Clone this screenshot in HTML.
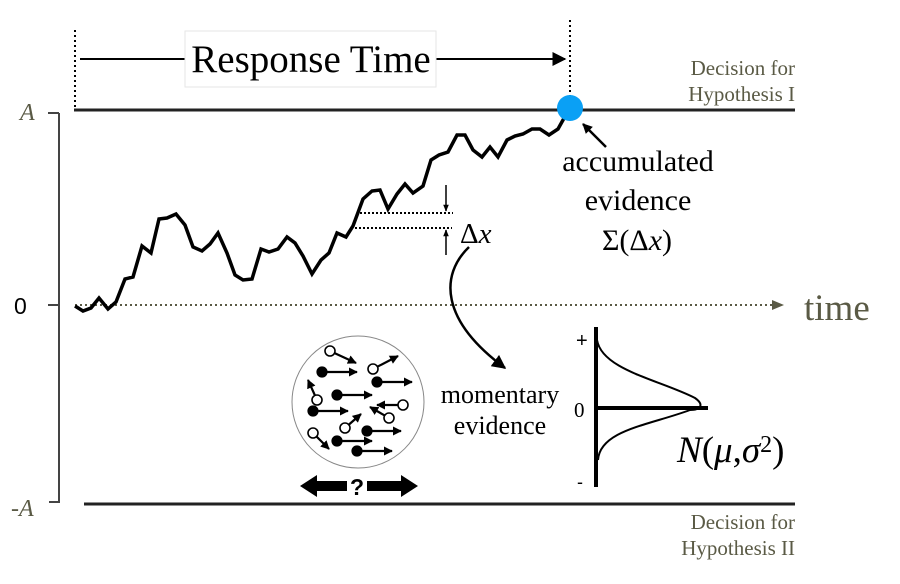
<!DOCTYPE html>
<html><head><meta charset="utf-8"><style>
html,body{margin:0;padding:0;background:#fff;width:900px;height:584px;overflow:hidden}
svg{display:block}
.serif{font-family:"Liberation Serif",serif}
</style></head><body>
<svg width="900" height="584" viewBox="0 0 900 584" xmlns="http://www.w3.org/2000/svg">
<defs>
<marker id="ah" viewBox="0 0 10 10" refX="9" refY="5" markerWidth="10" markerHeight="10" orient="auto" markerUnits="userSpaceOnUse"><path d="M0,0 L10,5 L0,10 z" fill="#000"/></marker>
<marker id="ah2" viewBox="0 0 10 10" refX="9" refY="5" markerWidth="14" markerHeight="14" orient="auto" markerUnits="userSpaceOnUse"><path d="M0,0 L10,5 L0,10 z" fill="#000"/></marker>
<marker id="ahs" viewBox="0 0 10 10" refX="9" refY="5" markerWidth="7" markerHeight="7" orient="auto" markerUnits="userSpaceOnUse"><path d="M0,1 L10,5 L0,9 z" fill="#000"/></marker>
<marker id="ahd" viewBox="0 0 10 10" refX="9" refY="5" markerWidth="9" markerHeight="9" orient="auto" markerUnits="userSpaceOnUse"><path d="M0,0 L10,5 L0,10 z" fill="#000"/></marker>
</defs>
<!-- axis -->
<line x1="59" y1="113" x2="59" y2="503" stroke="#444" stroke-width="2"/>
<line x1="48" y1="113" x2="59" y2="113" stroke="#444" stroke-width="2"/>
<line x1="48" y1="305" x2="59" y2="305" stroke="#444" stroke-width="2"/>
<line x1="49" y1="502" x2="60" y2="502" stroke="#444" stroke-width="2"/>
<text x="20" y="120" class="serif" font-style="italic" font-size="24" fill="#5a5a45">A</text>
<text x="14" y="314" font-family="Liberation Sans,sans-serif" font-size="23" fill="#000">0</text>
<text x="11" y="516" class="serif" font-style="italic" font-size="24" fill="#5a5a45">-A</text>
<!-- bounds -->
<line x1="74" y1="110" x2="795" y2="110" stroke="#222" stroke-width="3"/>
<line x1="84" y1="504" x2="795" y2="504" stroke="#222" stroke-width="3"/>
<line x1="75" y1="30" x2="75" y2="108" stroke="#000" stroke-width="2" stroke-dasharray="2,3"/>
<line x1="570" y1="20" x2="570" y2="100" stroke="#000" stroke-width="2" stroke-dasharray="2,3"/>
<!-- response time -->
<line x1="80" y1="59" x2="186" y2="59" stroke="#000" stroke-width="2"/>
<line x1="435" y1="59" x2="565" y2="59" stroke="#000" stroke-width="2" marker-end="url(#ah2)"/>
<rect x="185" y="31" width="251" height="56" fill="#fff" stroke="#e6e6e6" stroke-width="1"/>
<text x="311" y="72" class="serif" font-size="39" text-anchor="middle" fill="#000">Response Time</text>
<text x="795" y="75" class="serif" font-size="21" text-anchor="end" fill="#5a5a45">Decision for</text>
<text x="795" y="101" class="serif" font-size="21" text-anchor="end" fill="#5a5a45">Hypothesis I</text>
<text x="795" y="529" class="serif" font-size="21" text-anchor="end" fill="#5a5a45">Decision for</text>
<text x="795" y="555" class="serif" font-size="21" text-anchor="end" fill="#5a5a45">Hypothesis II</text>
<!-- zero line -->
<line x1="75" y1="305" x2="778" y2="305" stroke="#5a5a45" stroke-width="2" stroke-dasharray="2,3"/>
<path d="M772,300 L784,305 L772,310 z" fill="#5a5a45"/>
<text x="804" y="320" class="serif" font-size="37" fill="#5a5a45">time</text>
<!-- walk -->
<polyline fill="none" stroke="#000" stroke-width="3.5" stroke-linejoin="miter" points="75,306 83,311 91,308 99,298 108,309 116,302 125,279 133,277 142,246 151,253 159,219 167,218 176,214 185,225 193,247 202,251 210,244 218,233 227,253 235,275 243,280 252,279 261,249 269,252 278,249 287,237 295,243 303,256 312,274 321,260 329,253 337,233 346,237 353,226 363,199 372,191 380,190 388,209 397,194 405,184 413,193 423,186 431,160 439,155 448,152 457,135 465,135 473,150 482,157 490,147 498,157 507,140 515,136 523,134 532,129 540,129 549,135 558,129 563,120 568,110"/>
<circle cx="570" cy="108" r="13" fill="#0aa0f5"/>
<line x1="606" y1="147" x2="583" y2="124" stroke="#000" stroke-width="2.5" marker-end="url(#ah)"/>
<text x="638" y="171" class="serif" font-size="30" text-anchor="middle">accumulated</text>
<text x="638" y="210" class="serif" font-size="30" text-anchor="middle">evidence</text>
<text x="637" y="250" class="serif" font-size="30" text-anchor="middle">Σ(Δ<tspan font-style="italic">x</tspan>)</text>
<!-- delta x -->
<line x1="360" y1="213" x2="453" y2="213" stroke="#000" stroke-width="2" stroke-dasharray="2,2"/>
<line x1="355" y1="228" x2="452" y2="228" stroke="#000" stroke-width="2" stroke-dasharray="2,2"/>
<line x1="446" y1="185" x2="446" y2="211" stroke="#000" stroke-width="1.5" marker-end="url(#ahs)"/>
<line x1="446" y1="255" x2="446" y2="230" stroke="#000" stroke-width="1.5" marker-end="url(#ahs)"/>
<text x="460" y="243" class="serif" font-size="29">Δ<tspan font-style="italic">x</tspan></text>
<path d="M469,247 C440,275 440,320 505,368" fill="none" stroke="#000" stroke-width="2.5" marker-end="url(#ah2)"/>
<text x="500" y="403" class="serif" font-size="26" text-anchor="middle">momentary</text>
<text x="500" y="434" class="serif" font-size="26" text-anchor="middle">evidence</text>
<!-- gaussian -->
<line x1="596" y1="327" x2="596" y2="487" stroke="#000" stroke-width="4"/>
<line x1="596" y1="408" x2="708" y2="408" stroke="#000" stroke-width="4"/>
<path d="M597,340 C602,370 660,380 695,398 C705,405 700,410 690,410 C650,425 600,430 598,460" fill="none" stroke="#000" stroke-width="2"/>
<text x="576" y="347" font-family="Liberation Sans,sans-serif" font-size="20">+</text>
<text x="574" y="417" class="serif" font-size="21">0</text>
<text x="577" y="488" font-family="Liberation Sans,sans-serif" font-size="18">-</text>
<text x="677" y="462" class="serif" font-size="37" font-style="italic">N<tspan font-style="normal">(</tspan>μ<tspan font-style="normal">,</tspan>σ<tspan font-style="normal" font-size="24" dy="-10">2</tspan><tspan font-style="normal" dy="10">)</tspan></text>
<!-- dots circle -->
<circle cx="358" cy="402" r="66" fill="#fff" stroke="#888" stroke-width="1"/>
<g stroke="#000" stroke-width="2.2" fill="#000">
<line x1="322" y1="372" x2="357" y2="372" marker-end="url(#ahd)"/><circle cx="322" cy="372" r="4.5"/>
<line x1="377" y1="382" x2="412" y2="382" marker-end="url(#ahd)"/><circle cx="377" cy="382" r="4.5"/>
<line x1="337" y1="395" x2="372" y2="395" marker-end="url(#ahd)"/><circle cx="337" cy="395" r="4.5"/>
<line x1="313" y1="411" x2="348" y2="411" marker-end="url(#ahd)"/><circle cx="313" cy="411" r="4.5"/>
<line x1="367" y1="431" x2="401" y2="431" marker-end="url(#ahd)"/><circle cx="367" cy="431" r="4.5"/>
<line x1="337" y1="441" x2="372" y2="441" marker-end="url(#ahd)"/><circle cx="337" cy="441" r="4.5"/>
<line x1="357" y1="451" x2="392" y2="451" marker-end="url(#ahd)"/><circle cx="357" cy="451" r="4.5"/>
<line x1="330" y1="351" x2="356" y2="363" marker-end="url(#ahd)"/>
<line x1="373" y1="369" x2="398" y2="356" marker-end="url(#ahd)"/>
<line x1="317" y1="400" x2="308" y2="380" marker-end="url(#ahd)"/>
<line x1="403" y1="405" x2="377" y2="405" marker-end="url(#ahd)"/>
<line x1="389" y1="418" x2="370" y2="407" marker-end="url(#ahd)"/>
<line x1="345" y1="428" x2="361" y2="414" marker-end="url(#ahd)"/>
<line x1="313" y1="433" x2="329" y2="449" marker-end="url(#ahd)"/>
</g>
<g stroke="#000" stroke-width="1.6" fill="#fff">
<circle cx="330" cy="351" r="5"/><circle cx="373" cy="369" r="5"/><circle cx="317" cy="400" r="5"/>
<circle cx="403" cy="405" r="5"/><circle cx="389" cy="418" r="5"/><circle cx="345" cy="428" r="5"/><circle cx="313" cy="433" r="5"/>
</g>
<path d="M300,486 L317,475 L317,481 L347,481 L347,491 L317,491 L317,497 z" fill="#000"/>
<path d="M418,486 L401,475 L401,481 L367,481 L367,491 L401,491 L401,497 z" fill="#000"/>
<text x="357" y="495" font-family="Liberation Sans,sans-serif" font-weight="bold" font-size="23" text-anchor="middle">?</text>
</svg>
</body></html>
